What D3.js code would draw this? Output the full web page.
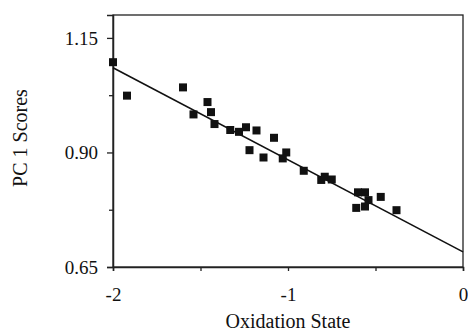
<!DOCTYPE html>
<html>
<head>
<meta charset="utf-8">
<script src="https://cdn.jsdelivr.net/npm/d3@7"></script>
<style>
body { margin: 0; background: #fff; }
svg text { font-family: "Liberation Serif", "Times New Roman", serif; fill: #111; }
</style>
</head>
<body>
<svg id="chart" width="468" height="335"></svg>
<script>
// oxidation state (x) and PC 1 score (y) of each sample
var oxState = [-2.00, -1.92, -1.60, -1.54, -1.46, -1.44, -1.42, -1.33, -1.28, -1.24,
               -1.18, -1.08, -1.22, -1.14, -1.01, -1.03, -0.91, -0.81, -0.79, -0.75,
               -0.60, -0.56, -0.54, -0.47, -0.61, -0.56, -0.38];
var pcScore = [1.097, 1.024, 1.042, 0.983, 1.010, 0.988, 0.962, 0.949, 0.945, 0.955,
               0.948, 0.932, 0.905, 0.889, 0.900, 0.887, 0.860, 0.840, 0.847, 0.841,
               0.813, 0.813, 0.796, 0.803, 0.779, 0.782, 0.774];
// fitted line end points
var fitX = [-2, 0];
var fitY = [1.085, 0.683];
var xTicks = [-2, -1.5, -1, -0.5, 0];
var xLabels = [-2, -1, 0];
var yTicks = [0.65, 0.775, 0.90, 1.025, 1.15];
var yLabels = [0.65, 0.90, 1.15];

var svg = d3.select("#chart");
var margin = {top: 15, right: 5, bottom: 68, left: 113};
var w = 468 - margin.left - margin.right;
var h = 335 - margin.top - margin.bottom;
var g = svg.append("g").attr("transform", "translate(" + margin.left + "," + margin.top + ")");

var x = d3.scaleLinear().domain([-2, 0]).range([0, w]);
var y = d3.scaleLinear().domain([0.65, 1.20]).range([h, 0]);

// frame
g.append("rect")
    .attr("x", 0).attr("y", 0)
    .attr("width", w).attr("height", h)
    .attr("fill", "none")
    .attr("stroke", "#222")
    .attr("stroke-width", 1.3);

// axes
var yAxis = d3.axisLeft(y).tickValues(yTicks).tickSize(6).tickPadding(9)
    .tickFormat(function(d) { return yLabels.indexOf(d) > -1 ? d3.format(".2f")(d) : ""; });
var ya = g.append("g").call(yAxis);
ya.selectAll(".tick line").attr("x2", function(d) { return yLabels.indexOf(d) > -1 ? -6 : -4; });

var xAxis = d3.axisBottom(x).tickValues(xTicks).tickSize(4).tickPadding(17)
    .tickFormat(function(d) { return xLabels.indexOf(d) > -1 ? d3.format("d")(d).replace("−", "-") : ""; });
var xa = g.append("g").attr("transform", "translate(0," + h + ")").call(xAxis);

[ya, xa].forEach(function(a) {
    a.attr("font-family", null).attr("font-size", null);
    a.select(".domain").attr("stroke", "#222").attr("stroke-width", 1.5);
    a.selectAll(".tick line").attr("stroke", "#222").attr("stroke-width", 1.3);
    a.selectAll(".tick text")
        .style("font-family", "'Liberation Serif', serif")
        .style("font-size", "19px")
        .attr("fill", "#111");
});

// regression line
g.append("line")
    .attr("x1", x(fitX[0])).attr("y1", y(fitY[0]))
    .attr("x2", x(fitX[1])).attr("y2", y(fitY[1]))
    .attr("stroke", "#111")
    .attr("stroke-width", 1.6);

// points
var sz = 8;
g.selectAll("rect.pt")
    .data(oxState)
    .enter().append("rect")
    .attr("class", "pt")
    .attr("x", function(d) { return x(d) - sz / 2; })
    .attr("y", function(d, i) { return y(pcScore[i]) - sz / 2; })
    .attr("width", sz).attr("height", sz)
    .attr("fill", "#111");

// titles
svg.append("text")
    .attr("x", margin.left + x(-1))
    .attr("y", 328)
    .attr("text-anchor", "middle")
    .style("font-size", "20px")
    .text("Oxidation State");

svg.append("text")
    .attr("transform", "translate(27,138) rotate(-90)")
    .attr("text-anchor", "middle")
    .style("font-size", "20px")
    .text("PC 1 Scores");
</script>
</body>
</html>
